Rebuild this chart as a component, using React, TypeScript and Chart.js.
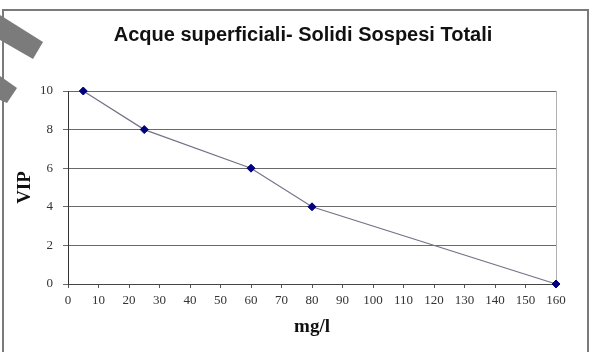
import React, { useEffect, useRef } from "react";
import { Chart, registerables } from "chart.js";

Chart.register(...registerables);

const chartTitle = "Acque superficiali- Solidi Sospesi Totali";
const xTitle = "mg/l";
const yTitle = "VIP";
const xValues = [5, 25, 60, 80, 160];
const yValues = [10, 8, 6, 4, 0];

const frame = {
  id: "frame",
  beforeDraw(chart: any) {
    const ctx = chart.ctx;
    const { left, top, right, bottom } = chart.chartArea;
    ctx.save();
    ctx.fillStyle = "#ffffff";
    ctx.fillRect(0, 0, chart.width, chart.height);
    ctx.strokeStyle = "#b0b0b0";
    ctx.lineWidth = 1;
    ctx.strokeRect(left + 0.5, top + 0.5, right - left, bottom - top);
    ctx.restore();
  },
  afterDraw(chart: any) {
    const ctx = chart.ctx;
    ctx.save();
    ctx.strokeStyle = "#7a7a7a";
    ctx.lineWidth = 2;
    ctx.strokeRect(3, 10, 585, 360);
    ctx.fillStyle = "#7b7b7b";
    ctx.beginPath();
    ctx.moveTo(0, 15);
    ctx.lineTo(43, 42);
    ctx.lineTo(33, 59);
    ctx.lineTo(0, 40);
    ctx.closePath();
    ctx.fill();
    ctx.beginPath();
    ctx.moveTo(0, 76);
    ctx.lineTo(17, 88);
    ctx.lineTo(7, 103);
    ctx.lineTo(0, 100);
    ctx.closePath();
    ctx.fill();
    ctx.fillStyle = "#111111";
    ctx.font = "bold 20px 'Liberation Sans', Arial, sans-serif";
    ctx.textAlign = "center";
    ctx.textBaseline = "middle";
    ctx.fillText(chartTitle, 303, 35);
    ctx.restore();
  },
};

export default function App() {
  const ref = useRef<HTMLCanvasElement | null>(null);
  useEffect(() => {
    if (!ref.current) return;
    const data = xValues.map((x, i) => ({ x, y: yValues[i] }));
    const serif = "'Liberation Serif', 'Times New Roman', serif";
    const chart = new Chart(ref.current, {
      type: "scatter",
      data: {
        datasets: [
          {
            data,
            showLine: true,
            clip: false,
            borderColor: "#737388",
            borderWidth: 1.2,
            backgroundColor: "#000080",
            pointBackgroundColor: "#000080",
            pointBorderColor: "#000080",
            pointStyle: "rectRot",
            pointRadius: 4,
            pointBorderWidth: 1,
          },
        ],
      },
      options: {
        animation: false,
        responsive: false,
        maintainAspectRatio: false,
        layout: { padding: { top: 91, left: 0, right: 45, bottom: 0 } },
        plugins: {
          legend: { display: false },
          title: { display: false },
          tooltip: { enabled: false },
        },
        scales: {
          x: {
            type: "linear",
            min: 0,
            max: 160,
            afterFit(scale: any) {
              scale.height = 68;
            },
            ticks: {
              stepSize: 10,
              padding: 5,
              color: "#333333",
              font: { family: serif, size: 13 },
              maxRotation: 0,
              autoSkip: false,
            },
            grid: {
              drawOnChartArea: false,
              drawTicks: true,
              tickLength: 4,
              color: "#555555",
            },
            border: { display: true, color: "#444444", width: 1 },
            title: {
              display: true,
              text: xTitle,
              color: "#111111",
              font: { family: serif, size: 19, weight: "bold" },
              padding: { top: 0, bottom: 13.6 },
            },
          },
          y: {
            type: "linear",
            min: 0,
            max: 10,
            afterFit(scale: any) {
              scale.width = 68;
            },
            ticks: {
              stepSize: 2,
              padding: 10,
              color: "#333333",
              font: { family: serif, size: 13 },
            },
            grid: {
              drawOnChartArea: true,
              drawTicks: true,
              tickLength: 5,
              color: "#6a6a6a",
            },
            border: { display: true, color: "#333333", width: 1 },
            title: {
              display: true,
              text: yTitle,
              color: "#111111",
              font: { family: serif, size: 19, weight: "bold" },
              padding: { top: 13.6, bottom: 0 },
            },
          },
        },
      },
      plugins: [frame],
    });
    return () => chart.destroy();
  }, []);
  return (
    <div style={{ position: "absolute", left: 0, top: 0, width: 601, height: 352 }}>
      <canvas ref={ref} width={601} height={352} style={{ width: 601, height: 352 }} />
    </div>
  );
}
